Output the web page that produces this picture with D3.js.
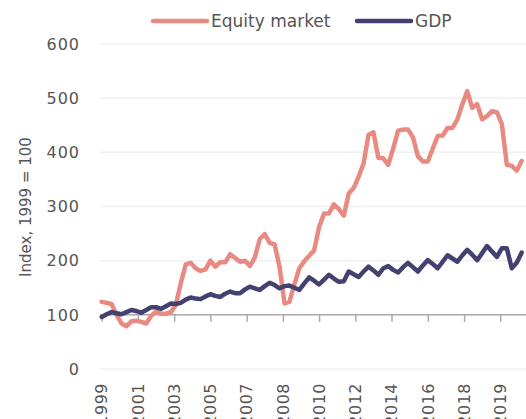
<!DOCTYPE html>
<html>
<head>
<meta charset="utf-8">
<script src="https://cdn.jsdelivr.net/npm/d3@7"></script>
<style>
  body { margin: 0; background: #fff; }
  svg { display: block; }
  text { font-family: "DejaVu Sans", sans-serif; fill: #555; }
</style>
</head>
<body>
<script>
// quarterly series, 1999Q4 .. 2021Q1
const equity = [
  124, 122, 120, 100, 84, 79, 88, 89, 87, 84,
  98, 106, 102, 102, 105, 118, 158, 193, 196, 186,
  181, 184, 200, 189, 197, 197, 212, 205, 198, 200,
  190, 206, 240, 249, 233, 230, 188, 121, 124, 156,
  186, 199, 209, 219, 262, 287, 287, 304, 295, 283,
  324, 334, 355, 380, 432, 437, 390, 389, 377, 407,
  440, 442, 442, 428, 393, 383, 383, 407, 430, 431,
  445, 445, 461, 489, 513, 482, 489, 461, 467, 476,
  474, 452, 377, 375, 366, 384
];
const gdp = [
  96, 101, 105, 103, 101, 105, 109, 107, 104, 109,
  114, 114, 111, 116, 121, 120, 122, 128, 132, 130,
  129, 134, 138, 135, 133, 139, 143, 140, 140, 147,
  152, 149, 146, 153, 159, 155, 149, 153, 154, 150,
  146, 158, 169, 163, 156, 165, 174, 167, 161, 162,
  180, 175, 170, 180, 189, 182, 174, 186, 190, 183,
  178, 188, 196, 188, 180, 191, 201, 194, 186, 198,
  210, 204, 198, 210, 220, 211, 201, 214, 227, 217,
  207, 223, 223, 186, 196, 215
];
const seriesNames = ["Equity market", "GDP"];
const seriesColors = ["#e88a81", "#43416f"];
const yTicks = [0, 100, 200, 300, 400, 500, 600];
const xTickDates = ["1999-10", "2001-08", "2003-06", "2005-04", "2007-02", "2008-12",
                    "2010-10", "2012-08", "2014-06", "2016-04", "2018-02", "2019-12"];

const width = 526, height = 419;
const parseMonth = d3.timeParse("%Y-%m");
const start = parseMonth("1999-10");
const dates = equity.map((d, i) => d3.timeMonth.offset(start, i * 3));

const x = d3.scaleTime()
    .domain([dates[0], dates[dates.length - 1]])
    .range([101.7, 521.7]);

const y = d3.scaleLinear()
    .domain([0, 600])
    .range([369, 44]);

const svg = d3.select("body").append("svg")
    .attr("width", width)
    .attr("height", height);

// gridlines
svg.append("g")
  .selectAll("line")
  .data(yTicks)
  .enter().append("line")
    .attr("x1", 100).attr("x2", width)
    .attr("y1", d => y(d)).attr("y2", d => y(d))
    .attr("stroke", "#f0f0f0")
    .attr("stroke-width", 1.5);

// y tick labels
svg.append("g")
  .selectAll("text")
  .data(yTicks)
  .enter().append("text")
    .attr("x", 80)
    .attr("y", d => y(d))
    .attr("dy", "0.36em")
    .attr("text-anchor", "end")
    .style("font-size", "16px")
    .style("letter-spacing", "1px")
    .text(d => d);

// y title
svg.append("text")
  .attr("transform", "translate(31,207) rotate(-90)")
  .attr("text-anchor", "middle")
  .style("font-size", "15px")
  .text("Index, 1999 = 100");

// x axis sits on the 100 line
const xAxis = d3.axisBottom(x)
    .tickValues(xTickDates.map(parseMonth))
    .tickFormat("")
    .tickSize(7)
    .tickSizeOuter(0);

const xg = svg.append("g")
    .attr("transform", `translate(0,${y(100)})`)
    .call(xAxis);
xg.select(".domain").attr("stroke", "#aaa").attr("stroke-width", 1.5)
  .attr("d", `M100,0H${width}`);
xg.selectAll(".tick line").attr("stroke", "#aaa").attr("stroke-width", 1.5);

// x tick labels, rotated, under the plot
svg.append("g")
  .selectAll("text")
  .data(xTickDates)
  .enter().append("text")
    .attr("transform", d => `translate(${x(parseMonth(d))},383) rotate(-90)`)
    .attr("dy", "0.36em")
    .attr("text-anchor", "end")
    .style("font-size", "16px")
    .style("letter-spacing", "0.5px")
    .text(d => d3.timeFormat("%Y")(parseMonth(d)));

// lines
const line = d3.line()
    .x((d, i) => x(dates[i]))
    .y(d => y(d));

[equity, gdp].forEach((values, k) => {
  svg.append("path")
    .datum(values)
    .attr("d", line)
    .attr("fill", "none")
    .attr("stroke", seriesColors[k])
    .attr("stroke-width", 4.5)
    .attr("stroke-linejoin", "round")
    .attr("stroke-linecap", "round");
});

// legend
const legendX = [153, 357];
const legend = svg.append("g")
  .selectAll("g")
  .data(seriesNames)
  .enter().append("g")
    .attr("transform", (d, i) => `translate(${legendX[i]},21)`);
legend.append("line")
  .attr("x1", 0).attr("x2", 54)
  .attr("stroke", (d, i) => seriesColors[i])
  .attr("stroke-width", 4.5)
  .attr("stroke-linecap", "round");
legend.append("text")
  .attr("x", 58)
  .attr("dy", "0.36em")
  .style("font-size", "17px")
  .text(d => d);
</script>
</body>
</html>
